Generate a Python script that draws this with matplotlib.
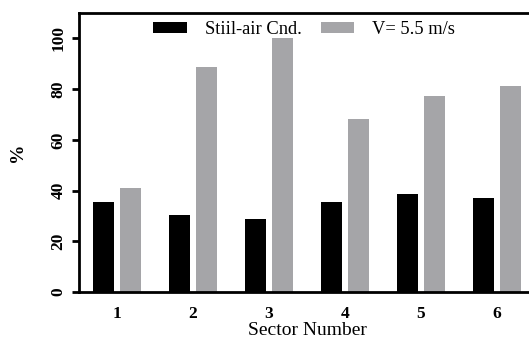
import matplotlib
matplotlib.use("Agg")
import matplotlib.pyplot as plt
import numpy as np

# values
sectors = [1, 2, 3, 4, 5, 6]
still_air = [35.6, 30.4, 28.9, 35.6, 38.7, 37.2]
wind_55 = [41.1, 88.9, 100.0, 68.4, 77.1, 81.4]
labels = ["Stiil-air Cnd.", "V= 5.5 m/s"]

plt.rcParams['font.family'] = ['Liberation Serif', 'DejaVu Serif']

fig = plt.figure(figsize=(5.29, 3.40), dpi=100)
ax = fig.add_axes([79 / 529, 1 - 292 / 340, (535 - 79) / 529, (292 - 13) / 340])

x = np.array(sectors)
w = 0.28
ax.bar(x - 0.18, still_air, w, color='black', label=labels[0])
ax.bar(x + 0.18, wind_55, w, color='#a5a5a8', label=labels[1])

ax.set_xlim(0.5, 6.5)
ax.set_ylim(0, 110)
ax.set_yticks([0, 20, 40, 60, 80, 100])
ax.set_xticks(sectors)
ax.tick_params(axis='x', length=0, pad=10, labelsize=12.5)
ax.tick_params(axis='y', length=5, width=2, direction='out', labelsize=12.5, pad=4)
for t in ax.get_xticklabels():
    t.set_fontweight('bold')
for t in ax.get_yticklabels():
    t.set_fontweight('bold')
    t.set_rotation(90)
    t.set_va('center')

for s in ['left', 'bottom', 'top']:
    ax.spines[s].set_linewidth(2)
ax.spines['right'].set_visible(False)

ax.set_xlabel('Sector Number', fontsize=14, labelpad=0)
ax.set_ylabel('%', fontsize=14, fontweight='bold', labelpad=18)

ax.legend(ncol=2, frameon=False, loc='upper center', bbox_to_anchor=(0.494, 1.03),
          fontsize=13.3, handlelength=1.8, handleheight=0.55, columnspacing=1.0,
          handletextpad=1.0)

fig.savefig('out.png', dpi=100)
